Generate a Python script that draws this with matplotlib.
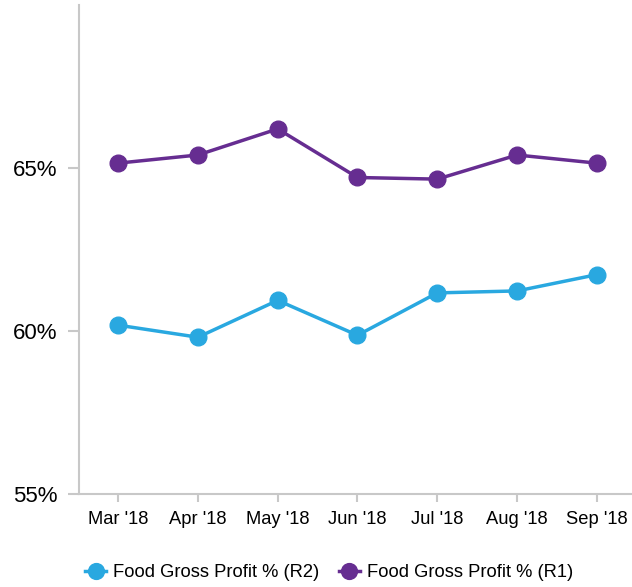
import numpy as np
import matplotlib.pyplot as plt

plt.rcParams['font.family'] = ['Liberation Sans', 'DejaVu Sans']

months = ["Mar '18", "Apr '18", "May '18", "Jun '18", "Jul '18", "Aug '18", "Sep '18"]
r2_gp = [60.18, 59.81, 60.94, 59.87, 61.17, 61.23, 61.73]
r1_gp = [65.15, 65.40, 66.20, 64.71, 64.66, 65.40, 65.15]

blue = '#29a8e0'
purple = '#662d91'
grey = '#c8c8c8'

fig = plt.figure(figsize=(6.32, 5.87), dpi=100)
ax = fig.add_axes([0.125, 0.1584, 0.875, 0.833])

x = np.arange(len(months))
ax.plot(x, r2_gp, '-o', c=blue, lw=2.5, ms=12, label='Food Gross Profit % (R2)', clip_on=False)
ax.plot(x, r1_gp, '-o', c=purple, lw=2.5, ms=12, label='Food Gross Profit % (R1)', clip_on=False)

ax.set_xlim(-0.49, 6.44)
ax.set_ylim(55, 70)
ax.set_yticks([55, 60, 65])
ax.set_yticklabels(['55%', '60%', '65%'], fontsize=16)
ax.set_xticks(x)
ax.set_xticklabels(months, fontsize=13.2)

for s in ['top', 'right']:
    ax.spines[s].set_visible(False)
for s in ['left', 'bottom']:
    ax.spines[s].set_color(grey)
    ax.spines[s].set_linewidth(1.5)
ax.tick_params(axis='y', length=8, width=1.5, color=grey, pad=7.5)
ax.tick_params(axis='x', length=6, width=1.5, color=grey, pad=6)

fig.legend(loc='center', bbox_to_anchor=(0.521, 0.024), ncol=2, frameon=False,
           fontsize=13.2, handlelength=1.1, handletextpad=0.4, columnspacing=1.1,
           markerscale=0.95)

plt.savefig('out.png', dpi=100)
